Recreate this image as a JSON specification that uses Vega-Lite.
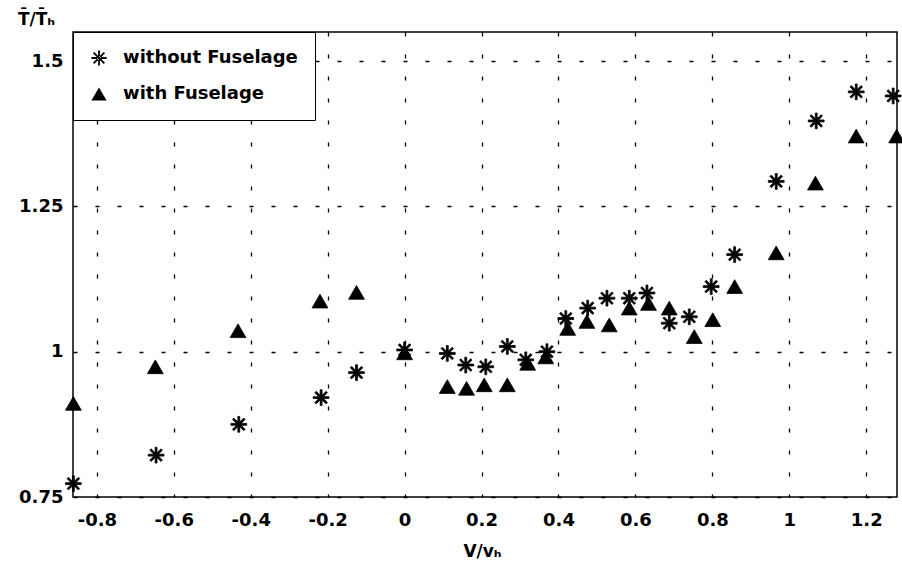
{
  "$schema": "https://vega.github.io/schema/vega-lite/v6.json",
  "width": 824,
  "height": 465,
  "autosize": {"type": "none"},
  "padding": {"left": 73, "top": 32, "right": 5, "bottom": 65},
  "background": "white",
  "config": {
    "view": {"stroke": "black", "strokeWidth": 1.5},
    "font": "DejaVu Sans",
    "axis": {
      "domain": false,
      "ticks": false,
      "grid": true,
      "gridColor": "black",
      "gridDash": [4, 18],
      "gridWidth": 1.3,
      "gridOpacity": 1,
      "labelFont": "DejaVu Sans",
      "labelFontWeight": "bold",
      "labelFontSize": 18,
      "labelColor": "black",
      "titleFont": "DejaVu Sans",
      "titleFontWeight": "bold",
      "titleFontSize": 17,
      "titleColor": "black"
    }
  },
  "data": {
    "values": [
      {"series": "without Fuselage", "v": -0.861, "t": 0.773},
      {"series": "without Fuselage", "v": -0.646, "t": 0.822},
      {"series": "without Fuselage", "v": -0.431, "t": 0.875},
      {"series": "without Fuselage", "v": -0.217, "t": 0.921},
      {"series": "without Fuselage", "v": -0.125, "t": 0.964},
      {"series": "without Fuselage", "v": 0.0, "t": 1.003},
      {"series": "without Fuselage", "v": 0.111, "t": 0.997},
      {"series": "without Fuselage", "v": 0.159, "t": 0.977},
      {"series": "without Fuselage", "v": 0.211, "t": 0.974},
      {"series": "without Fuselage", "v": 0.267, "t": 1.009},
      {"series": "without Fuselage", "v": 0.315, "t": 0.986},
      {"series": "without Fuselage", "v": 0.37, "t": 1.0},
      {"series": "without Fuselage", "v": 0.419, "t": 1.057},
      {"series": "without Fuselage", "v": 0.476, "t": 1.075},
      {"series": "without Fuselage", "v": 0.526, "t": 1.092},
      {"series": "without Fuselage", "v": 0.584, "t": 1.092},
      {"series": "without Fuselage", "v": 0.63, "t": 1.101},
      {"series": "without Fuselage", "v": 0.688, "t": 1.049},
      {"series": "without Fuselage", "v": 0.74, "t": 1.06},
      {"series": "without Fuselage", "v": 0.797, "t": 1.112},
      {"series": "without Fuselage", "v": 0.858, "t": 1.167},
      {"series": "without Fuselage", "v": 0.966, "t": 1.293},
      {"series": "without Fuselage", "v": 1.07, "t": 1.397},
      {"series": "without Fuselage", "v": 1.174, "t": 1.447},
      {"series": "without Fuselage", "v": 1.27, "t": 1.44},
      {"series": "with Fuselage", "v": -0.861, "t": 0.911},
      {"series": "with Fuselage", "v": -0.648, "t": 0.974},
      {"series": "with Fuselage", "v": -0.433, "t": 1.036},
      {"series": "with Fuselage", "v": -0.22, "t": 1.087},
      {"series": "with Fuselage", "v": -0.125, "t": 1.102},
      {"series": "with Fuselage", "v": 0.0, "t": 0.998},
      {"series": "with Fuselage", "v": 0.111, "t": 0.94},
      {"series": "with Fuselage", "v": 0.161, "t": 0.937},
      {"series": "with Fuselage", "v": 0.207, "t": 0.943},
      {"series": "with Fuselage", "v": 0.267, "t": 0.943},
      {"series": "with Fuselage", "v": 0.32, "t": 0.98},
      {"series": "with Fuselage", "v": 0.367, "t": 0.991},
      {"series": "with Fuselage", "v": 0.424, "t": 1.04},
      {"series": "with Fuselage", "v": 0.474, "t": 1.052},
      {"series": "with Fuselage", "v": 0.532, "t": 1.046},
      {"series": "with Fuselage", "v": 0.584, "t": 1.075},
      {"series": "with Fuselage", "v": 0.634, "t": 1.083},
      {"series": "with Fuselage", "v": 0.688, "t": 1.075},
      {"series": "with Fuselage", "v": 0.753, "t": 1.026},
      {"series": "with Fuselage", "v": 0.801, "t": 1.055},
      {"series": "with Fuselage", "v": 0.858, "t": 1.112},
      {"series": "with Fuselage", "v": 0.966, "t": 1.17},
      {"series": "with Fuselage", "v": 1.068, "t": 1.29},
      {"series": "with Fuselage", "v": 1.174, "t": 1.371},
      {"series": "with Fuselage", "v": 1.279, "t": 1.371}
    ]
  },
  "mark": {
    "type": "point",
    "filled": true,
    "fill": "black",
    "stroke": "black",
    "strokeWidth": 0.8,
    "opacity": 1,
    "size": 250,
    "clip": false
  },
  "encoding": {
    "x": {
      "field": "v",
      "type": "quantitative",
      "scale": {"domain": [-0.862, 1.28], "nice": false, "zero": false},
      "axis": {
        "values": [-0.8, -0.6, -0.4, -0.2, 0, 0.2, 0.4, 0.6, 0.8, 1, 1.2],
        "labelExpr": "datum.value < 0 ? '-' + format(-datum.value, '~g') : format(datum.value, '~g')",
        "labelPadding": 14,
        "title": "V/vₕ",
        "titleX": 409,
        "titleY": 54,
        "titleAlign": "center",
        "titleBaseline": "middle"
      }
    },
    "y": {
      "field": "t",
      "type": "quantitative",
      "scale": {"domain": [0.75, 1.55], "nice": false, "zero": false},
      "axis": {
        "values": [0.75, 1, 1.25, 1.5],
        "format": ".2~f",
        "labelPadding": 10,
        "title": "T̄/T̄ₕ",
        "titleAngle": 0,
        "titleX": -37,
        "titleY": -13,
        "titleAlign": "center",
        "titleBaseline": "middle"
      }
    },
    "shape": {
      "field": "series",
      "type": "nominal",
      "scale": {
        "domain": ["without Fuselage", "with Fuselage"],
        "range": ["M-1,-0.12L1,-0.12L1,0.12L-1,0.12ZM-0.12,-1L0.12,-1L0.12,1L-0.12,1ZM-0.625,-0.795L0.795,0.625L0.625,0.795L-0.795,-0.625ZM-0.625,0.795L0.795,-0.625L0.625,-0.795L-0.795,0.625Z", "triangle-up"]
      },
      "legend": {
        "title": null,
        "orient": "none",
        "legendX": 0,
        "legendY": 0,
        "padding": 17,
        "strokeColor": "black",
        "fillColor": "white",
        "symbolSize": 230,
        "symbolStrokeColor": "black",
        "symbolFillColor": "black",
        "symbolStrokeWidth": 0.8,
        "labelFont": "DejaVu Sans",
        "labelFontWeight": "bold",
        "labelFontSize": 18,
        "labelColor": "black",
        "labelOffset": 15,
        "labelLimit": 400,
        "rowPadding": 17,
        "encode": {
          "symbols": {
            "update": {
              "stroke": {"value": "black"},
              "fill": {"value": "black"},
              "strokeWidth": {"value": 0.8},
              "opacity": {"value": 1}
            }
          }
        }
      }
    }
  }
}
